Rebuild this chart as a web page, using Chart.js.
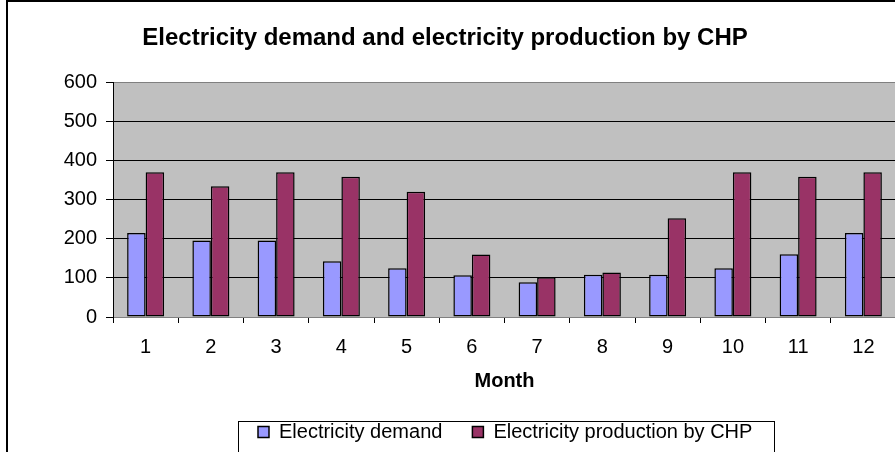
<!DOCTYPE html>
<html>
<head>
<meta charset="utf-8">
<script src="https://cdn.jsdelivr.net/npm/chart.js@4.4.1/dist/chart.umd.min.js"></script>
<style>
html, body { margin: 0; padding: 0; background: #fff; overflow: hidden; }
#frame { position: absolute; left: 6px; top: 0px; width: 2000px; height: 2000px; border-left: 2px solid #000; border-top: 2px solid #000; }
#wrap { position: absolute; left: 0; top: 0; width: 900px; height: 452px; }
</style>
</head>
<body>
<div id="frame"></div>
<div id="wrap"><canvas id="chp" width="900" height="452"></canvas></div>
<script>

// chart data
const months = ["1", "2", "3", "4", "5", "6", "7", "8", "9", "10", "11", "12"];
const demand = [215, 196, 196, 143, 125, 107, 89, 108, 108, 125, 161, 215];
const chpProduction = [371, 335, 371, 359, 321, 160, 102, 114, 253, 371, 359, 371];
const yTicks = [0, 100, 200, 300, 400, 500, 600];

const FONT = "Arial, 'Liberation Sans', sans-serif";

// grey plot area
const plotBg = {
    id: "plotBg",
    beforeDraw(chart) {
        const a = chart.chartArea;
        const ctx = chart.ctx;
        ctx.save();
        ctx.fillStyle = "#C0C0C0";
        ctx.fillRect(a.left, a.top, a.right - a.left, a.bottom - a.top);
        ctx.restore();
    }
};

// legend is not centred under the title in the original, move it right
const legendFrame = {
    id: "legendFrame",
    afterLayout(chart) {
        const lg = chart.legend;
        if (lg && lg.lineWidths) {
            const start = (lg.left + lg.options.labels.padding + lg.right - lg.lineWidths[0]) / 2;
            const dx = 258 - start;
            lg.left += dx;
            lg.right += dx;
        }
        if (chart.titleBlock) {
            chart.titleBlock.left -= 3;
            chart.titleBlock.right -= 3;
        }
    },
    afterDraw(chart) {
        const boxes = chart.legend.legendHitBoxes;
        if (!boxes || !boxes.length) return;
        let left = Infinity, right = -Infinity;
        boxes.forEach(b => {
            left = Math.min(left, b.left);
            right = Math.max(right, b.left + b.width);
        });
        const mid = boxes[0].top + boxes[0].height / 2;
        const ctx = chart.ctx;
        ctx.save();
        ctx.strokeStyle = "#000";
        ctx.lineWidth = 1;
        ctx.strokeRect(Math.round(left - 20) + 0.5, Math.round(mid - 11) + 0.5, Math.round(right - left + 42), 200);
        ctx.restore();
    }
};

new Chart(document.getElementById("chp"), {

    type: "bar",

    data: {
        labels: months,
        datasets: [
            {
                label: "Electricity demand",
                data: demand,
                backgroundColor: "#9999FF",
                borderColor: "#000",
                borderWidth: 1.5,
                borderSkipped: false
            },
            {
                label: "Electricity production by CHP",
                data: chpProduction,
                backgroundColor: "#993366",
                borderColor: "#000",
                borderWidth: 1.5,
                borderSkipped: false
            }
        ]
    },

    plugins: [plotBg, legendFrame],

    options: {
        responsive: false,
        animation: false,
        devicePixelRatio: 1,
        layout: {
            padding: { left: 0, right: 4, top: 0, bottom: 0 }
        },
        datasets: {
            bar: {
                categoryPercentage: 0.567,
                barPercentage: 1.0
            }
        },
        plugins: {
            title: {
                display: true,
                text: "Electricity demand and electricity production by CHP",
                color: "#000",
                font: { family: FONT, size: 24, weight: "bold" },
                padding: { top: 24, bottom: 30 }
            },
            legend: {
                position: "bottom",
                labels: {
                    color: "#000",
                    font: { family: FONT, size: 20 },
                    boxWidth: 11,
                    boxHeight: 11,
                    padding: 30
                }
            },
            tooltip: { enabled: false }
        },
        scales: {
            x: {
                grid: {
                    drawOnChartArea: false,
                    drawTicks: true,
                    tickLength: 6,
                    tickColor: "#000",
                    offset: true
                },
                border: { color: "#808080", width: 1 },
                ticks: {
                    color: "#000",
                    font: { family: FONT, size: 20 },
                    padding: 12,
                    maxRotation: 0
                },
                title: {
                    display: true,
                    text: "Month",
                    color: "#000",
                    font: { family: FONT, size: 20, weight: "bold", lineHeight: 1 },
                    padding: { top: 1, bottom: 1 }
                },
                afterFit(scale) {
                    scale.height = scale.chart.height - scale.chart.legend.height - 317;
                }
            },
            y: {
                min: 0,
                max: 600,
                grid: {
                    color: c => (c.tick && (c.tick.value === 600 || c.tick.value === 0)) ? "#808080" : "#000",
                    tickColor: "#000",
                    tickLength: 7
                },
                border: { color: "#000", width: 1 },
                ticks: {
                    color: "#000",
                    font: { family: FONT, size: 20 },
                    padding: 9
                },
                afterBuildTicks(scale) {
                    scale.ticks = yTicks.map(v => ({ value: v }));
                },
                afterFit(scale) {
                    scale.width = 113;
                }
            }
        }
    },

});
</script>
</body>
</html>
